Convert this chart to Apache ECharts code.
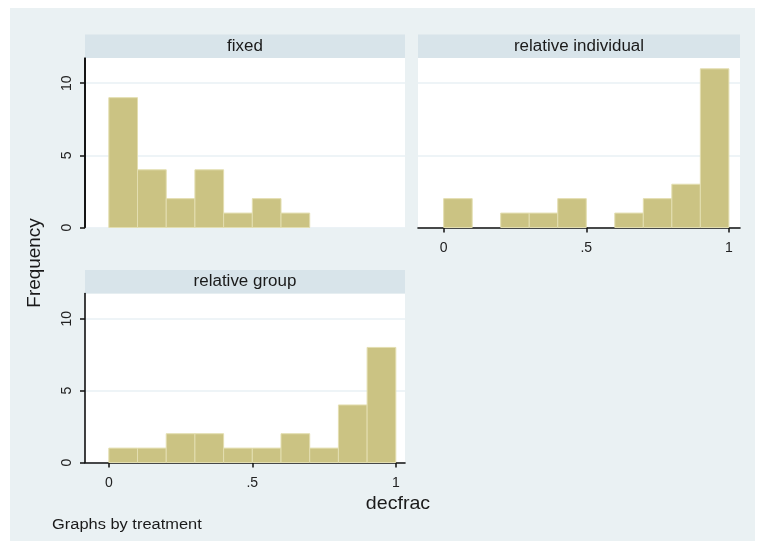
<!DOCTYPE html>
<html>
<head>
<meta charset="utf-8">
<script src="https://cdn.jsdelivr.net/npm/echarts@6/dist/echarts.min.js"></script>
<style>
  html, body { margin: 0; padding: 0; background: #ffffff; }
  #chart { width: 757px; height: 552px; }
</style>
</head>
<body>
<div id="chart"></div>
<script>
// Histogram of decfrac, one panel per treatment (bin width 0.1)
const binEdges = [0, 0.1, 0.2, 0.3, 0.4, 0.5, 0.6, 0.7, 0.8, 0.9, 1.0];
const panelTitles = ['fixed', 'relative individual', 'relative group'];
const fixedCounts = [9, 4, 2, 4, 1, 2, 1, 0, 0, 0];
const individualCounts = [2, 0, 1, 1, 2, 0, 1, 2, 3, 11];
const groupCounts = [1, 1, 2, 2, 1, 1, 2, 1, 4, 8];
const yTicks = [0, 5, 10];
const xTicks = [0, 0.5, 1];
const xTickText = ['0', '.5', '1'];

const FONT = '"Liberation Sans", Arial, sans-serif';
const BAR = '#cbc383';
const BAR_EDGE = '#e3deb0';
const BG = '#eaf1f3';
const STRIP = '#d8e4ea';
const GRIDLINE = '#e9f1f4';
const INK = '#111111';
const Y_MAX = 11.75;

function toBins(counts) {
  const out = [];
  counts.forEach((c, i) => {
    if (c > 0) out.push([binEdges[i], binEdges[i + 1], c]);
  });
  return out;
}

function renderBar(params, api) {
  const p0 = api.coord([api.value(0), api.value(2)]);
  const p1 = api.coord([api.value(1), 0]);
  return {
    type: 'rect',
    shape: { x: p0[0], y: p0[1], width: p1[0] - p0[0], height: p1[1] - p0[1] },
    style: { fill: BAR, stroke: BAR_EDGE, lineWidth: 1 }
  };
}

const grids = [
  { left: 85, top: 58, width: 320, height: 169.5 },
  { left: 418, top: 58, width: 322, height: 169.5 },
  { left: 85, top: 293.5, width: 320, height: 169 }
].map(g => Object.assign({ show: true, backgroundColor: '#ffffff', borderWidth: 0 }, g));

const xRanges = [[-0.083, 1.032], [-0.09, 1.039], [-0.083, 1.032]];
const showX = [false, true, true];
const showY = [true, false, true];

const xAxes = xRanges.map((r, i) => ({
  type: 'value', gridIndex: i, position: 'bottom', min: r[0], max: r[1],
  axisLine: { show: showX[i], onZero: false, lineStyle: { color: INK, width: 1.6 } },
  axisTick: { show: showX[i], customValues: xTicks, length: 5, lineStyle: { color: INK, width: 1.5 } },
  axisLabel: {
    show: showX[i], customValues: xTicks, margin: 14,
    fontFamily: FONT, fontSize: 14, color: '#222',
    formatter: v => xTickText[xTicks.indexOf(v)] ?? ''
  },
  splitLine: { show: false }
}));

const yAxes = [0, 1, 2].map(i => ({
  type: 'value', gridIndex: i, position: 'left', min: 0, max: Y_MAX,
  axisLine: { show: showY[i], onZero: false, lineStyle: { color: INK, width: 1.6 } },
  axisTick: { show: showY[i], customValues: yTicks, length: 5, lineStyle: { color: INK, width: 1.5 } },
  axisLabel: {
    show: showY[i], customValues: yTicks, rotate: 90, margin: 11,
    fontFamily: FONT, fontSize: 14, color: '#222'
  },
  splitLine: { show: true, lineStyle: { color: GRIDLINE, width: 1.5 } }
}));

const countSets = [fixedCounts, individualCounts, groupCounts];
const series = countSets.map((counts, i) => {
  const s = {
    type: 'custom', xAxisIndex: i, yAxisIndex: i, z: 3,
    renderItem: renderBar, data: toBins(counts), clip: false, silent: true
  };
  // left axis rule of the top-left panel, traced along the axis minimum
  if (i === 0) {
    s.markLine = {
      silent: true, symbol: 'none', label: { show: false },
      lineStyle: { color: INK, width: 1.8, type: 'solid' },
      data: [[{ coord: [xRanges[0][0], 0] }, { coord: [xRanges[0][0], Y_MAX] }]]
    };
  }
  return s;
});

// strips above each panel carrying the treatment name
const strips = grids.map((g, i) => ({
  type: 'group', x: g.left, y: g.top - 23.5,
  children: [
    { type: 'rect', shape: { x: 0, y: 0, width: g.width, height: 23.5 }, style: { fill: STRIP } },
    { type: 'text', x: g.width / 2, y: 12, scaleX: 1.06, style: {
        text: panelTitles[i], fill: '#1a1a1a', font: '16px ' + FONT,
        align: 'center', verticalAlign: 'middle' } }
  ]
}));

const option = {
  animation: false,
  backgroundColor: '#ffffff',
  grid: grids,
  xAxis: xAxes,
  yAxis: yAxes,
  series: series,
  graphic: [
    { type: 'rect', z: -10, silent: true, shape: { x: 10, y: 8, width: 745, height: 533 }, style: { fill: BG } },
    ...strips,
    { type: 'text', x: 35, y: 263, rotation: Math.PI / 2, scaleX: 1.05, style: {
        text: 'Frequency', fill: '#1a1a1a', font: '18px ' + FONT, align: 'center', verticalAlign: 'middle' } },
    { type: 'text', x: 398, y: 504, scaleX: 1.06, style: {
        text: 'decfrac', fill: '#1a1a1a', font: '18.5px ' + FONT, align: 'center', verticalAlign: 'middle' } },
    { type: 'text', x: 52, y: 525, scaleX: 1.06, style: {
        text: 'Graphs by treatment', fill: '#1a1a1a', font: '15.5px ' + FONT, align: 'left', verticalAlign: 'middle' } }
  ]
};

echarts.init(document.getElementById('chart'), null, { renderer: 'canvas' }).setOption(option);
</script>
</body>
</html>
